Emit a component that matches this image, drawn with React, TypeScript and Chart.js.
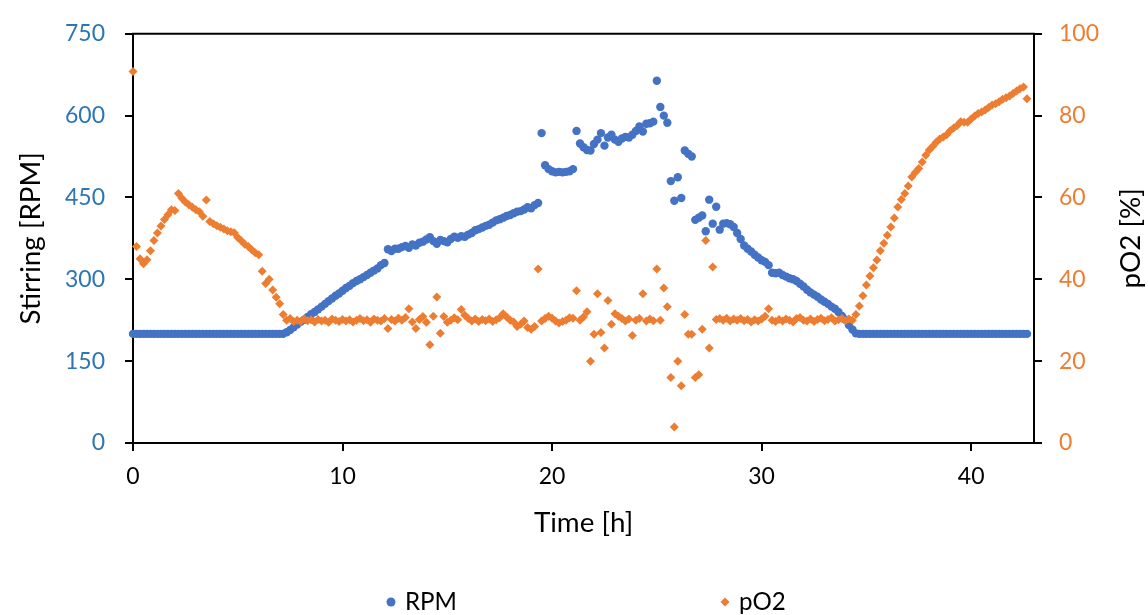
import React, { useEffect, useRef } from "react";
import { Chart, registerables } from "chart.js";

Chart.register(...registerables);

// sampling interval of the logged data, minutes
const SAMPLE_MIN = 10;

// Stirring speed [RPM], one value per sample
const RPM = [
  200, 200, 200, 200, 200, 200, 200, 200, 200, 200,
  200, 200, 200, 200, 200, 200, 200, 200, 200, 200,
  200, 200, 200, 200, 200, 200, 200, 200, 200, 200,
  200, 200, 200, 200, 200, 200, 200, 200, 200, 200,
  200, 200, 200, 200, 203, 207, 212, 217,
  222, 226, 231, 236, 240, 245, 250, 255, 260, 265,
  270, 274, 279, 284, 288, 293, 297, 300, 304, 308,
  312, 316, 320, 326, 330,
  355, 352, 356, 356, 359, 361, 358, 364, 362, 367,
  369, 373, 377, 370, 365, 372, 370, 368, 374, 378,
  376, 379, 378, 382, 385, 390, 392, 395, 398, 400,
  404, 408, 410, 413, 416, 418, 421, 424, 425, 428,
  432, 430, 436, 440,
  568, 509, 502, 498, 496, 497, 496, 497, 498, 502,
  572, 549, 542, 537, 536, 548, 556, 568, 545, 560,
  565, 556, 552, 558, 561, 560, 565, 572, 580, 571,
  585, 586, 589, 664, 616, 600, 587, 480, 444, 487,
  449, 536, 530, 525,
  409, 413, 417, 388, 446, 402, 433, 391, 402, 403,
  401, 396, 385, 374, 362, 356, 351, 345, 340, 335,
  332, 326, 312, 311, 312, 308, 305, 302, 300, 297,
  292, 287, 281, 276, 272, 268, 263, 259, 255, 250,
  246, 240, 233, 226, 216, 208, 201,
  200, 200, 200, 200, 200, 200, 200, 200, 200, 200,
  200, 200, 200, 200, 200, 200, 200, 200, 200, 200,
  200, 200, 200, 200, 200, 200, 200, 200, 200, 200,
  200, 200, 200, 200, 200, 200, 200, 200, 200, 200,
  200, 200, 200, 200, 200, 200, 200, 200, 200,
];

// Dissolved oxygen pO2 [%], one value per sample
const PO2 = [
  90.8, 48.0, 45.0, 43.8, 44.8, 47.0, 49.5, 51.3, 53.0, 54.6,
  55.8, 57.0, 56.8, 61.0, 59.8, 58.9, 58.2, 57.6, 57.0, 56.5,
  55.4, 59.4, 54.1, 53.6, 53.1, 52.7, 52.3, 51.9, 51.6, 51.4,
  50.2, 49.4, 48.6, 48.0, 47.2, 46.5, 46.0, 42.0, 39.0, 40.0,
  37.4, 35.6, 34.0, 31.4, 30.0, 30.4, 29.7, 30.0, 29.7,
  30.3, 29.9, 30.1, 29.6, 30.2, 29.8, 30.0, 29.5, 30.3, 30.0,
  29.7, 30.2, 29.8, 30.1, 29.6, 30.0, 30.4, 29.9, 30.1, 29.5,
  30.3, 30.0, 29.8, 30.4, 28.0, 30.2, 29.8, 30.5, 30.0, 30.7,
  32.8, 29.6, 28.0, 30.2, 30.9, 29.5, 24.0, 31.0, 35.7, 26.8,
  30.9, 29.5, 30.0, 30.6, 30.1, 32.6, 31.2, 30.4, 29.8, 30.3,
  29.7, 30.2, 29.9, 30.3, 29.7, 30.1, 30.6, 31.6, 30.8, 30.0,
  29.6, 28.5, 29.0, 29.8, 28.2, 27.8, 28.5, 42.5, 29.8, 30.4,
  31.0, 30.5, 29.8, 29.3, 29.7, 30.0, 30.6, 30.5,
  37.2, 30.0, 30.8, 32.1, 20.0, 26.6, 36.5, 27.0, 23.2, 34.8,
  29.0, 31.6, 31.0, 30.4, 29.8, 30.3, 26.3, 30.0, 30.4, 36.5,
  29.8, 30.3, 29.9, 42.5, 30.0, 37.9, 33.3, 16.0, 3.9, 20.0,
  14.0, 31.4, 26.6, 26.6, 16.0, 16.7, 27.8, 49.5, 23.2, 43.0,
  30.2,
  30.4, 30.0, 30.5, 29.8, 30.3, 30.0, 30.4, 29.9, 30.2, 29.6,
  30.1, 29.8, 30.3, 31.0, 32.8, 30.0, 29.7, 30.2, 29.8, 30.3,
  30.0, 29.6, 30.4, 30.7, 30.0, 29.8, 30.3, 29.7, 30.2, 30.5,
  29.9, 30.2, 30.6, 29.8, 30.1, 30.4, 29.9, 30.3, 30.0,
  31.4, 33.5, 36.0, 38.6, 40.8, 42.8, 44.7, 47.0, 48.8, 50.8,
  52.8, 55.0, 57.7, 59.5, 61.0, 62.8, 65.0, 66.1, 67.1, 68.7,
  70.3, 71.6, 72.5, 73.5, 74.3, 74.8, 75.3, 76.3, 77.0, 77.6,
  78.5, 78.4, 78.4, 79.2, 79.9, 80.5, 80.9, 81.4, 82.0, 82.6,
  82.9, 83.4, 84.0, 84.4, 84.8, 85.4, 86.0, 86.6, 87.0, 84.1,
];

const X_TICKS = [0, 10, 20, 30, 40];
const RPM_TICKS = [0, 150, 300, 450, 600, 750];
const PO2_TICKS = [0, 20, 40, 60, 80, 100];
const X_MAX = 43;

const X_TITLE = "Time [h]";
const Y_LEFT_TITLE = "Stirring [RPM]";
const Y_RIGHT_TITLE = "pO2 [%]";
const LEGEND_RPM = "RPM";
const LEGEND_PO2 = "pO2";

const FONT = "Lato, 'Noto Sans', sans-serif";
const BLUE = "#4472C4";
const ORANGE = "#ED7D31";
const BLUE_TXT = "#2E75B6";
const ORANGE_TXT = "#ED7D31";

export default function App() {
  const ref = useRef<HTMLCanvasElement>(null);

  useEffect(() => {
    document.body.style.margin = "0";
    const canvas = ref.current!;
    const toPts = (arr: number[]) =>
      arr.map((v, i) => ({ x: (i * SAMPLE_MIN) / 60, y: v }));

    const fitSize = (ctx: CanvasRenderingContext2D, text: string, target: number) => {
      ctx.font = `100px ${FONT}`;
      return (100 * target) / ctx.measureText(text).width;
    };

    const decor = {
      id: "decor",
      afterDraw(chart: any) {
        const { ctx, chartArea: a } = chart;
        ctx.save();
        ctx.strokeStyle = "#000";
        ctx.lineWidth = 2;
        ctx.beginPath();
        ctx.moveTo(a.left - 1, a.top);
        ctx.lineTo(a.right + 1, a.top);
        ctx.stroke();

        const s1 = fitSize(ctx, Y_LEFT_TITLE, 175);
        const s2 = fitSize(ctx, X_TITLE, 103);
        const s3 = fitSize(ctx, Y_RIGHT_TITLE, 95);
        const ts = (s1 + s2 + s3) / 3;
        ctx.font = `${ts}px ${FONT}`;
        ctx.fillStyle = "#000";
        ctx.textAlign = "center";
        ctx.textBaseline = "middle";
        const midY = (a.top + a.bottom) / 2;
        ctx.fillText(X_TITLE, (a.left + a.right) / 2, 523);
        ctx.save();
        ctx.translate(31, midY);
        ctx.rotate(-Math.PI / 2);
        ctx.fillText(Y_LEFT_TITLE, 0, 0);
        ctx.restore();
        ctx.save();
        ctx.translate(1131, midY);
        ctx.rotate(-Math.PI / 2);
        ctx.fillText(Y_RIGHT_TITLE, 0, 0);
        ctx.restore();

        const ls = fitSize(ctx, LEGEND_RPM, 52);
        ctx.font = `${ls}px ${FONT}`;
        ctx.textAlign = "left";
        const ly = 602;
        ctx.fillStyle = BLUE;
        ctx.beginPath();
        ctx.arc(391, ly, 4.5, 0, Math.PI * 2);
        ctx.fill();
        ctx.fillStyle = "#000";
        ctx.fillText(LEGEND_RPM, 405, ly);
        ctx.fillStyle = ORANGE;
        ctx.beginPath();
        ctx.moveTo(725 - 4.5, ly);
        ctx.lineTo(725, ly - 4.5);
        ctx.lineTo(725 + 4.5, ly);
        ctx.lineTo(725, ly + 4.5);
        ctx.closePath();
        ctx.fill();
        ctx.fillStyle = "#000";
        ctx.fillText(LEGEND_PO2, 739, ly);
        ctx.restore();
      },
    };

    const axisCommon = (tickLen: number) => ({
      grid: {
        display: true,
        drawOnChartArea: false,
        drawTicks: true,
        tickLength: tickLen,
        color: "#000",
        lineWidth: 2,
      },
      border: { display: true, color: "#000", width: 2 },
    });

    const chart = new Chart(canvas, {
      type: "scatter",
      data: {
        datasets: [
          {
            label: LEGEND_RPM,
            data: toPts(RPM),
            yAxisID: "y",
            pointStyle: "circle",
            pointRadius: 4.2,
            pointBorderWidth: 0,
            backgroundColor: BLUE,
            borderColor: BLUE,
            showLine: false,
            clip: false,
            order: 1,
          },
          {
            label: LEGEND_PO2,
            data: toPts(PO2),
            yAxisID: "y2",
            pointStyle: "rectRot",
            pointRadius: 4.5,
            pointBorderWidth: 0,
            backgroundColor: ORANGE,
            borderColor: ORANGE,
            showLine: false,
            clip: false,
            order: 0,
          },
        ],
      },
      options: {
        animation: false,
        responsive: false,
        devicePixelRatio: 1,
        layout: { padding: { top: 28, left: 0, right: 0, bottom: 0 } },
        plugins: {
          legend: { display: false },
          tooltip: { enabled: false },
        },
        scales: {
          x: {
            type: "linear",
            position: "bottom",
            min: 0,
            max: X_MAX,
            afterBuildTicks: (s: any) => {
              s.ticks = X_TICKS.map((v) => ({ value: v }));
            },
            afterFit: (s: any) => {
              s.height = 615 - 28 - 415;
            },
            ticks: {
              color: "#000",
              padding: 12,
              font: { family: FONT, size: 23 },
            },
            ...axisCommon(8),
          },
          y: {
            type: "linear",
            position: "left",
            min: 0,
            max: 750,
            afterBuildTicks: (s: any) => {
              s.ticks = RPM_TICKS.map((v) => ({ value: v }));
            },
            afterFit: (s: any) => {
              s.width = 133;
            },
            ticks: {
              color: BLUE_TXT,
              padding: 20,
              font: { family: FONT, size: 23 },
            },
            ...axisCommon(8),
          },
          y2: {
            type: "linear",
            position: "right",
            min: 0,
            max: 100,
            afterBuildTicks: (s: any) => {
              s.ticks = PO2_TICKS.map((v) => ({ value: v }));
            },
            afterFit: (s: any) => {
              s.width = 1148 - 1034;
            },
            ticks: {
              color: ORANGE_TXT,
              padding: 17,
              font: { family: FONT, size: 23 },
            },
            ...axisCommon(8),
          },
        },
      },
      plugins: [decor],
    } as any);

    return () => chart.destroy();
  }, []);

  return (
    <div style={{ width: 1148, height: 615, background: "#fff" }}>
      <canvas ref={ref} width={1148} height={615} style={{ display: "block" }} />
    </div>
  );
}
